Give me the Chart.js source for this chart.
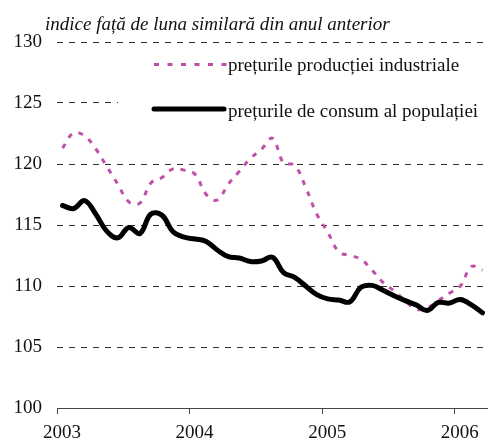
<!DOCTYPE html>
<html>
<head>
<meta charset="utf-8">
<script src="https://cdn.jsdelivr.net/npm/chart.js@4.4.0/dist/chart.umd.min.js"></script>
<style>
html,body{margin:0;padding:0;background:#fff;}
#wrap{width:488px;height:442px;position:relative;}
</style>
</head>
<body>
<div id="wrap"><canvas id="c" width="488" height="442"></canvas></div>
<script>
// Monthly data, Jan 2003 .. Mar 2006
const months = ["2003-01","2003-02","2003-03","2003-04","2003-05","2003-06","2003-07","2003-08","2003-09","2003-10","2003-11","2003-12",
"2004-01","2004-02","2004-03","2004-04","2004-05","2004-06","2004-07","2004-08","2004-09","2004-10","2004-11","2004-12",
"2005-01","2005-02","2005-03","2005-04","2005-05","2005-06","2005-07","2005-08","2005-09","2005-10","2005-11","2005-12",
"2006-01","2006-02","2006-03"];
const ppi = [121.3,122.55,122.3,121.25,119.8,118.35,116.9,116.8,118.45,118.9,119.6,119.5,
119.15,117.5,117.05,118.35,119.4,120.45,121.2,122.1,120.1,119.9,118.1,115.9,
114.4,112.8,112.5,112.2,111.3,110.3,109.6,108.8,108.1,108.2,108.8,109.4,
110.0,111.6,111.3];
const cpi = [116.6,116.35,117.0,115.9,114.5,113.95,114.8,114.3,115.9,115.8,114.45,114.0,
113.85,113.65,112.95,112.4,112.3,112.0,112.05,112.35,111.1,110.7,110.0,109.3,
108.95,108.85,108.7,109.9,110.05,109.65,109.2,108.8,108.45,108.0,108.65,108.6,
108.9,108.45,107.8];
const yearLabels = ["2003","2004","2005","2006"];
const yTicks = [100,105,110,115,120,125,130];
const seriesNames = ["prețurile producției industriale","prețurile de consum al populației"];
const titleText = "indice față de luna similară din anul anterior";

const FONT = "'Liberation Serif','Times New Roman',serif";
const PINK = "#C04FA8";

const toXY = arr => arr.map((v,i)=>({x:i+0.5,y:v}));

const overlay = {
  id:'overlay',
  afterDraw(chart){
    const ctx = chart.ctx;
    ctx.save();
    // title
    ctx.fillStyle = "#111";
    ctx.font = "italic 19px " + FONT;
    ctx.textBaseline = "middle";
    ctx.textAlign = "left";
    ctx.fillText(titleText, 45, 25);
    // legend box
    ctx.fillStyle = "#fff";
    ctx.fillRect(118, 52, 370, 70);
    ctx.lineCap = "butt";
    ctx.strokeStyle = PINK;
    ctx.lineWidth = 3;
    ctx.setLineDash([5,8.5]);
    ctx.beginPath(); ctx.moveTo(154,64.5); ctx.lineTo(227,64.5); ctx.stroke();
    ctx.setLineDash([]);
    ctx.strokeStyle = "#000";
    ctx.lineWidth = 5;
    ctx.lineCap = "round";
    ctx.beginPath(); ctx.moveTo(154,109); ctx.lineTo(224,109); ctx.stroke();
    ctx.fillStyle = "#111";
    ctx.font = "19px " + FONT;
    ctx.fillText(seriesNames[0], 228, 66);
    ctx.fillText(seriesNames[1], 228, 112);
    ctx.restore();
  }
};

new Chart(document.getElementById('c'), {
  type:'line',
  data:{
    datasets:[
      {label:seriesNames[1], data:toXY(cpi), borderColor:'#000', borderWidth:5, pointRadius:0, tension:0.4, borderCapStyle:'round', borderJoinStyle:'round', fill:false},
      {label:seriesNames[0], data:toXY(ppi), borderColor:PINK, borderWidth:3, borderDash:[5,7], pointRadius:0, tension:0.4, fill:false}
    ]
  },
  options:{
    responsive:false,
    animation:false,
    events:[],
    layout:{padding:{top:42,right:0,left:0,bottom:0}},
    plugins:{legend:{display:false},tooltip:{enabled:false},title:{display:false}},
    scales:{
      x:{
        type:'linear', min:0, max:39,
        afterBuildTicks(scale){ scale.ticks = yearLabels.map((l,i)=>({value:i*12})); },
        afterFit(scale){ scale.height = 34; },
        ticks:{
          callback:(v)=>yearLabels[Math.round(v/12)],
          font:{family:FONT,size:19}, color:'#111', padding:8, labelOffset:5, maxRotation:0, autoSkip:false
        },
        grid:{drawOnChartArea:false, drawTicks:true, tickLength:6, color:'#444', lineWidth:1},
        border:{display:true, color:'#444', width:1}
      },
      y:{
        min:100, max:130,
        afterBuildTicks(scale){ scale.ticks = yTicks.map(v=>({value:v})); },
        afterFit(scale){ scale.width = 57; },
        ticks:{font:{family:FONT,size:19}, color:'#111', padding:15},
        grid:{drawTicks:false, color:(c)=> (c.tick && c.tick.value===100) ? 'rgba(0,0,0,0)' : '#333', lineWidth:1},
        border:{display:false, dash:[6,6]}
      }
    }
  },
  plugins:[overlay]
});
</script>
</body>
</html>
